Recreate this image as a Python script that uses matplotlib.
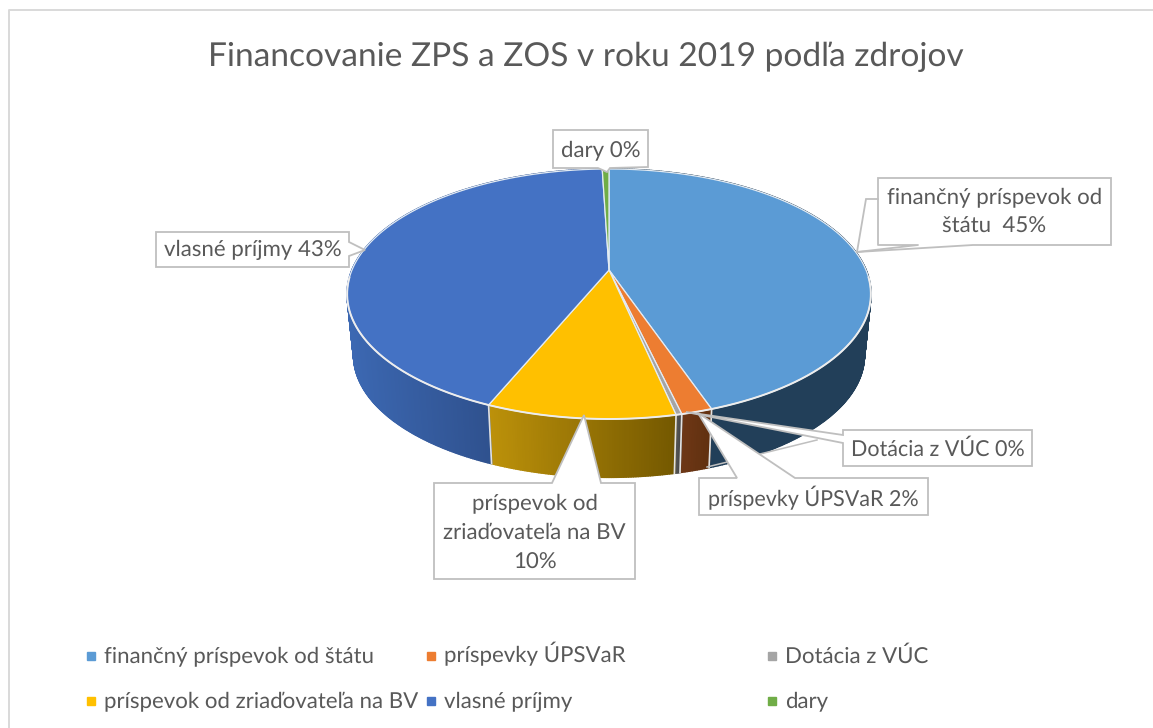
import numpy as np
import matplotlib
matplotlib.use("Agg")
import matplotlib.pyplot as plt
from matplotlib.lines import Line2D
from matplotlib.patches import Polygon
from matplotlib.collections import PolyCollection

# ---- data ----
title = "Financovanie ZPS a ZOS v roku 2019 podľa zdrojov"
categories = ["finančný príspevok od štátu", "príspevky ÚPSVaR", "Dotácia z VÚC",
              "príspevok od zriaďovateľa na BV", "vlasné príjmy", "dary"]
values = [44.7, 1.6, 0.3, 9.7, 43.2, 0.5]
top_colors = ["#5B9BD5", "#ED7D31", "#A5A5A5", "#FFC000", "#4472C4", "#70AD47"]
wall_left = ["#223F59", "#6E3716", "#555555", "#BC910A", "#3C68B2", "#4C7A2F"]
wall_right = ["#223F59", "#60300F", "#444444", "#745800", "#2F518E", "#4C7A2F"]

TEXT = "#595959"
BOX = "#BFBFBF"
plt.rcParams["font.family"] = ["Lato", "DejaVu Sans"]
plt.rcParams["text.hinting"] = "no_hinting"

fig = plt.figure(figsize=(11.53, 7.28), dpi=100, facecolor="white")
ax = fig.add_axes([0, 0, 1, 1])
ax.set_xlim(0, 1153)
ax.set_ylim(728, 0)
ax.axis("off")

# chart frame
ax.add_line(Line2D([8.5, 8.5, 1153], [728, 9.5, 9.5], color="#D9D9D9", lw=1.4))

# perspective projection of the pie
CX, CY = 609, 270
CY2 = 332
SX, SY, K = 257, 120.4, 0.192
BOTTOM = 0.975


def rim(frac):
    a = 2 * np.pi * np.asarray(frac)
    u, v = np.sin(a), np.cos(a)
    w = 1 + K * v
    return SX * u / w, -SY * v / w


edges = np.concatenate([[0], np.cumsum(values)]) / np.sum(values)

# side walls
for i in range(len(values)):
    n = max(4, int(values[i] * 8))
    t = np.linspace(edges[i], edges[i + 1], n + 1)
    X, Y = rim(t)
    xt, yt = CX + X, CY + Y
    xb, yb = CX + BOTTOM * X, CY2 + BOTTOM * Y
    polys, cols = [], []
    c0 = np.array(matplotlib.colors.to_rgb(wall_left[i]))
    c1 = np.array(matplotlib.colors.to_rgb(wall_right[i]))
    front = yt > CY
    lo, hi = (xt[front].min(), xt[front].max()) if front.any() else (0, 1)
    for j in range(n):
        polys.append([(xt[j], yt[j]), (xt[j + 1], yt[j + 1]), (xb[j + 1], yb[j + 1]), (xb[j], yb[j])])
        f = np.clip(((xt[j] + xt[j + 1]) / 2 - lo) / max(hi - lo, 1), 0, 1)
        cols.append(c0 + (c1 - c0) * f)
    ax.add_collection(PolyCollection(polys, facecolors=cols, edgecolors=cols, linewidths=1.2, zorder=2))
    if yt[0] > CY + 60:
        ax.add_line(Line2D([xt[0], xb[0]], [yt[0], yb[0]], color="#E2E2E2", lw=1.2, zorder=3))

# top faces
for i in range(len(values)):
    t = np.linspace(edges[i], edges[i + 1], max(4, int(values[i] * 8)) + 1)
    X, Y = rim(t)
    pts = np.column_stack([np.r_[CX, CX + X], np.r_[CY, CY + Y]])
    ax.add_patch(Polygon(pts, closed=True, facecolor=top_colors[i], edgecolor="#E4ECF4", lw=0.9, zorder=4))

# pale highlight along the front rim
t = np.linspace(0.26, 0.74, 300)
X, Y = rim(t)
ax.add_line(Line2D(CX + X, CY + Y, color="#EDEDED", lw=1.4, zorder=5))

# stray leader on the lowest wall
ax.add_line(Line2D([707, 817], [467, 440], color=BOX, lw=1.1, zorder=5))


def callout(poly, extra=None):
    ax.add_patch(Polygon(poly, closed=True, facecolor="white", edgecolor=BOX, lw=1.3, zorder=6, joinstyle="miter"))
    if extra is not None:
        ax.add_line(Line2D(*zip(*extra), color=BOX, lw=1.3, zorder=7))


pct = [f"{round(v):d}%" for v in values]
kw = dict(color=TEXT, fontsize=16, ha="center", va="center", zorder=8, linespacing=1.62)
kw_small = dict(kw, fontsize=15.5)

callout([(878, 178), (1111, 178), (1111, 245), (973, 245), (857, 252), (866, 199), (878, 199)],
        extra=[(878, 199), (878, 245), (918, 245), (857, 252)])
ax.text(994.5, 212, f"finančný príspevok od\nštátu  {pct[0]}", **kw)

callout([(843, 430), (1032, 430), (1032, 466), (843, 466), (843, 443), (686, 412), (843, 435)])
ax.text(937.5, 449, f"{categories[2]} {pct[2]}", **kw_small)

callout([(699, 478), (737, 478), (698, 413), (795, 478), (928, 478), (928, 515), (699, 515)])
ax.text(813.5, 498, f"{categories[1]} {pct[1]}", **kw_small)

callout([(434, 483), (552, 483), (584, 415), (601, 483), (635, 483), (635, 579), (434, 579)])
ax.text(534.5, 533, f"príspevok od\nzriaďovateľa na BV\n{pct[3]}", **kw)

callout([(553, 130), (648, 130), (648, 167), (610, 168), (607, 172), (598, 168), (553, 168)])
ax.text(600.5, 150, f"{categories[5]} {pct[5]}", **kw)

callout([(156, 232), (349, 232), (349, 242), (365, 250), (349, 256), (349, 267), (156, 267)])
ax.text(252.5, 250, f"{categories[4]} {pct[4]}", **kw)

# title
ax.text(586, 57, title, color=TEXT, fontsize=24.1, ha="center", va="center", zorder=8)

# legend: three columns, two rows
legend_x = [91, 431, 771.5]
legend_y = [655.5, 700.5]
order = [[0, 1, 2], [3, 4, 5]]
for ly, row in zip(legend_y, order):
    for lx, i in zip(legend_x, row):
        ax.plot([lx], [ly], ls="none", marker="s", ms=5.6, mfc=top_colors[i], mec=top_colors[i], zorder=8)
        ax.text(lx + 13.5, ly + 7, categories[i], color=TEXT, fontsize=16, ha="left", va="baseline", zorder=8)

fig.savefig("out.png", dpi=100, facecolor="white")
